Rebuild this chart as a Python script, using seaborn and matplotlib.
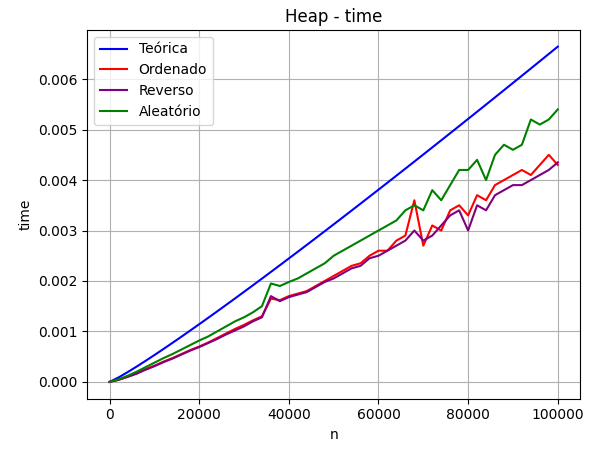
import matplotlib
matplotlib.use("Agg")
import matplotlib.pyplot as plt
import seaborn as sns
import pandas as pd

n = list(range(0, 100001, 2000))
teorica = [0.0, 0.0000877, 0.0001915, 0.0003012, 0.0004149, 0.0005315, 0.0006504, 0.0007713, 0.0008938,
           0.0010178, 0.0011430, 0.0012694, 0.0013969, 0.0015253, 0.0016546, 0.0017848, 0.0019156,
           0.0020472, 0.0021796, 0.0023124, 0.0024461, 0.0025801, 0.0027148, 0.0028500, 0.0029858,
           0.0031220, 0.0032585, 0.0033957, 0.0035332, 0.0036712, 0.0038095, 0.0039482, 0.0040873,
           0.0042266, 0.0043664, 0.0045066, 0.0046472, 0.0047878, 0.0049291, 0.0050703, 0.0052122,
           0.0053539, 0.0054963, 0.0056388, 0.0057816, 0.0059249, 0.0060680, 0.0062115, 0.0063556,
           0.0064998, 0.0066440]

ordenado = [0.0, 0.00004, 0.0001, 0.00017, 0.00025, 0.00032, 0.0004, 0.00047, 0.00055, 0.00063, 0.0007,
            0.00078, 0.00087, 0.00096, 0.00105, 0.00113, 0.00122, 0.0013, 0.00165, 0.00162, 0.0017,
            0.00175, 0.0018, 0.0019, 0.002, 0.0021, 0.0022, 0.0023, 0.00235, 0.0025, 0.0026,
            0.0026, 0.0028, 0.0029, 0.0036, 0.0027, 0.0031, 0.003, 0.0034, 0.0035, 0.0033,
            0.0037, 0.0036, 0.0039, 0.004, 0.0041, 0.0042, 0.0041, 0.0043, 0.0045, 0.0043]
reverso = [0.0, 0.00004, 0.0001, 0.00016, 0.00024, 0.00031, 0.00039, 0.00046, 0.00054, 0.00062, 0.00069,
           0.00077, 0.00085, 0.00094, 0.00102, 0.0011, 0.0012, 0.00128, 0.0017, 0.0016, 0.00168,
           0.00173, 0.00178, 0.00188, 0.00198, 0.00205, 0.00215, 0.00225, 0.0023, 0.00245, 0.0025,
           0.0026, 0.0027, 0.0028, 0.003, 0.0028, 0.0029, 0.0031, 0.0033, 0.0034, 0.003,
           0.0035, 0.0034, 0.0037, 0.0038, 0.0039, 0.0039, 0.0040, 0.0041, 0.0042, 0.00435]
aleatorio = [0.0, 0.00005, 0.00012, 0.0002, 0.00029, 0.00038, 0.00047, 0.00055, 0.00064, 0.00073, 0.00082,
             0.0009, 0.001, 0.0011, 0.0012, 0.00128, 0.00138, 0.0015, 0.00195, 0.0019, 0.00198,
             0.00205, 0.00215, 0.00225, 0.00235, 0.0025, 0.0026, 0.0027, 0.0028, 0.0029, 0.003,
             0.0031, 0.0032, 0.0034, 0.0035, 0.0034, 0.0038, 0.0036, 0.0039, 0.0042, 0.0042,
             0.0044, 0.0040, 0.0045, 0.0047, 0.0046, 0.0047, 0.0052, 0.0051, 0.0052, 0.0054]

df = pd.DataFrame({"n": n, "Teórica": teorica, "Ordenado": ordenado,
                   "Reverso": reverso, "Aleatório": aleatorio})
long = df.melt(id_vars="n", var_name="serie", value_name="time")

fig, ax = plt.subplots(figsize=(5.89, 4.53), dpi=100)
sns.lineplot(data=long, x="n", y="time", hue="serie", ax=ax,
             palette={"Teórica": "blue", "Ordenado": "red", "Reverso": "purple", "Aleatório": "green"})
ax.legend(title=None, loc="upper left")
ax.grid(True)
ax.set_title("Heap - time")
ax.set_xlabel("n")
ax.set_ylabel("time")
fig.subplots_adjust(left=0.148, right=0.985, top=0.934, bottom=0.12)
fig.savefig("out.png")
